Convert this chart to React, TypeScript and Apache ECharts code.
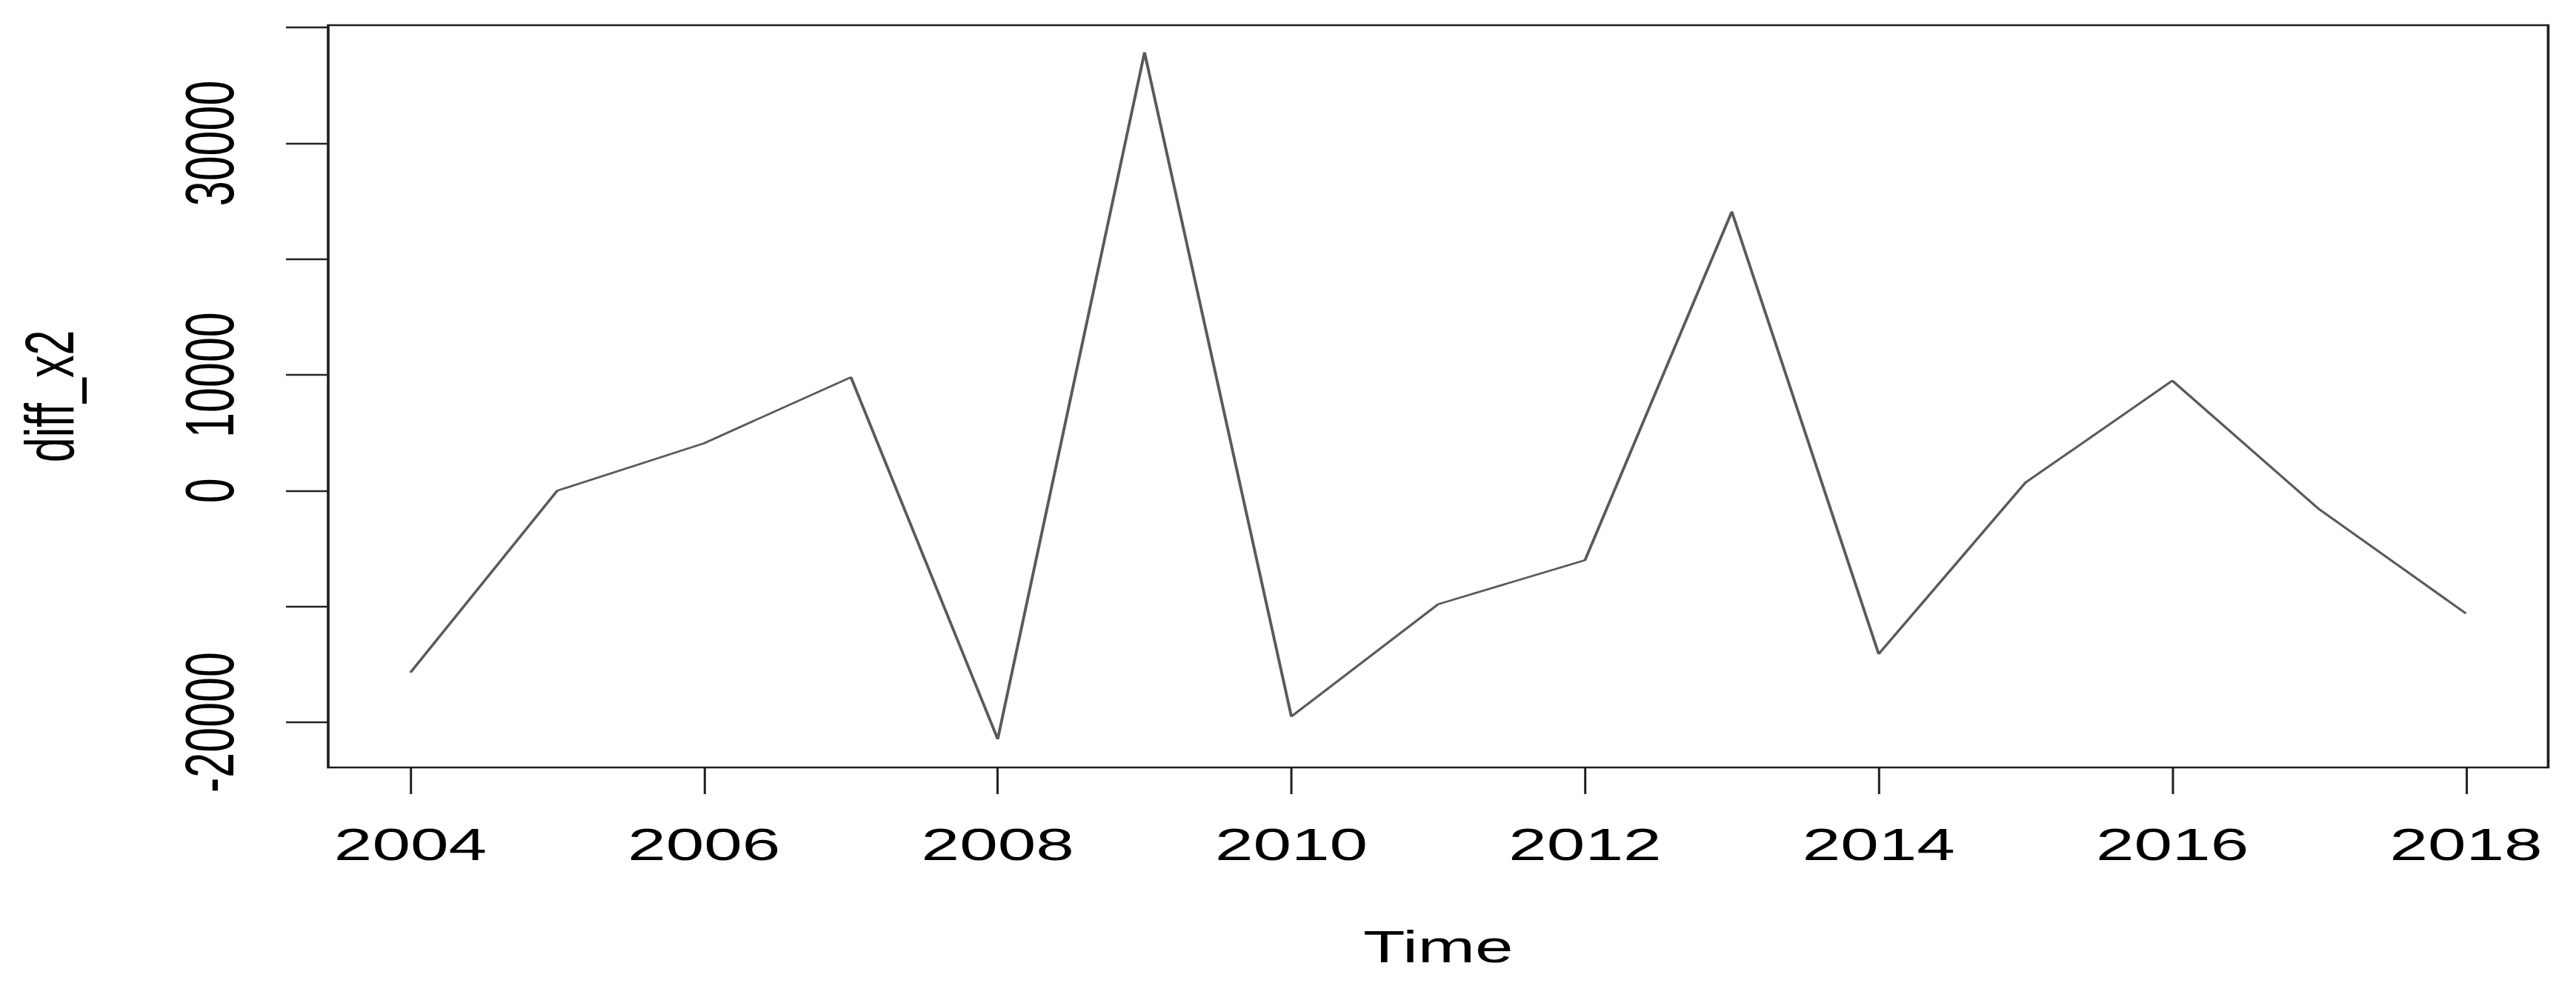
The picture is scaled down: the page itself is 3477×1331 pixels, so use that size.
import React, { useEffect, useRef } from "react";
import * as echarts from "echarts";

// ---- data ----
const years = [2004, 2005, 2006, 2007, 2008, 2009, 2010, 2011, 2012, 2013, 2014, 2015, 2016, 2017, 2018];
const diffX2 = [-15700, 0, 4100, 9800, -21450, 37850, -19500, -9800, -6000, 24100, -14100, 700, 9500, -1600, -10600];
const xTickValues = [2004, 2006, 2008, 2010, 2012, 2014, 2016, 2018];
const yTickValues = [-20000, -10000, 0, 10000, 20000, 30000, 40000];
const yLabelValues = [-20000, 0, 10000, 30000];
const xTitle = "Time";
const yTitle = "diff_x2";

// The reference image is horizontally stretched; draw at a base width and stretch.
const BASE_W = 2288;
const H = 1331;
const SX = 3477 / BASE_W;
const FONT = "'Liberation Sans', Arial, Helvetica, sans-serif";
const FS = 61;

export default function App() {
  const ref = useRef<HTMLDivElement>(null);

  useEffect(() => {
    document.body.style.margin = "0";
    document.body.style.overflow = "hidden";
    const el = ref.current;
    if (!el) return;
    const chart = echarts.init(el, null, { renderer: "svg", width: BASE_W, height: H });
    chart.setOption({
      animation: false,
      backgroundColor: "#ffffff",
      grid: {
        show: true,
        left: 291.5,
        top: 34,
        width: 1971.8,
        height: 1002,
        borderColor: "#1e1e1e",
        borderWidth: 2.4,
        backgroundColor: "transparent",
      },
      xAxis: {
        type: "value",
        min: 2003.44,
        max: 2018.56,
        name: xTitle,
        nameLocation: "middle",
        nameGap: 212,
        nameTextStyle: { fontSize: FS, fontFamily: FONT, color: "#000", lineHeight: FS },
        axisLine: { show: false, onZero: false },
        splitLine: { show: false },
        axisTick: {
          show: true,
          length: 36,
          customValues: xTickValues,
          lineStyle: { color: "#222222", width: 2 },
        },
        axisLabel: {
          show: true,
          customValues: xTickValues,
          margin: 74,
          fontSize: FS,
          lineHeight: FS,
          fontFamily: FONT,
          color: "#000",
          formatter: (v: number) => String(Math.round(v)),
        },
      },
      yAxis: {
        type: "value",
        min: -23900,
        max: 40200,
        name: yTitle,
        nameLocation: "middle",
        nameRotate: 90,
        nameGap: 217,
        nameTextStyle: { fontSize: FS, fontFamily: FONT, color: "#000", lineHeight: FS },
        axisLine: { show: false, onZero: false },
        splitLine: { show: false },
        axisTick: {
          show: true,
          length: 37.5,
          customValues: yTickValues,
          lineStyle: { color: "#222222", width: 2.4 },
        },
        axisLabel: {
          show: true,
          customValues: yLabelValues,
          rotate: 90,
          margin: 74.5,
          fontSize: FS,
          lineHeight: FS,
          fontFamily: FONT,
          color: "#000",
          formatter: (v: number) => String(v),
        },
      },
      series: [
        {
          type: "line",
          data: years.map((y, i) => [y, diffX2[i]]),
          symbol: "none",
          lineStyle: { color: "#5a5a5a", width: 2.6 },
        },
      ],
    });
    return () => chart.dispose();
  }, []);

  return (
    <div
      ref={ref}
      style={{
        position: "absolute",
        left: 0,
        top: 0,
        width: BASE_W,
        height: H,
        transform: `scaleX(${SX})`,
        transformOrigin: "0 0",
        background: "#fff",
      }}
    />
  );
}
